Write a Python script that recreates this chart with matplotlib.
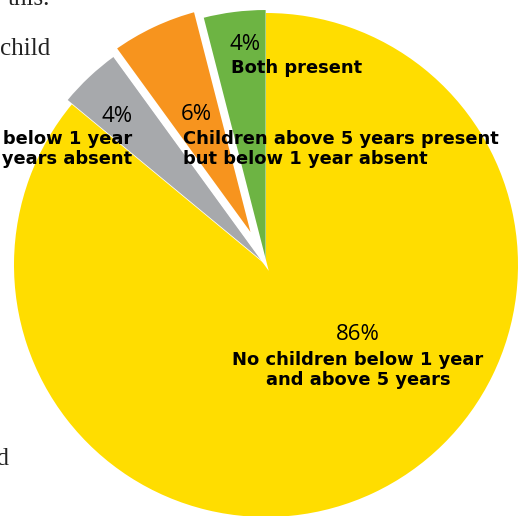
import matplotlib.pyplot as plt

# slices, counter-clockwise from 12 o'clock
categories = ["Both present",
              "Children above 5 years present\nbut below 1 year absent",
              "Children below 1 year\npresent but above 5 years absent",
              "No children below 1 year\nand above 5 years"]
shares = [4, 6, 4, 86]
colors = ["#6DB443", "#F7941E", "#A7A9AC", "#FFDD00"]

H = 516  # picture height in px, text placed in px from top

fig = plt.figure(figsize=(5.18, 5.16), dpi=100)
ax = fig.add_axes([0, 0, 1, 1])

wedges, _ = ax.pie(shares, colors=colors, startangle=90, counterclock=True,
                   center=(266, H - 265), radius=252,
                   explode=[3, 15, 6, 0], wedgeprops=dict(linewidth=0))
# orange slice carries a thick white outline that cuts the gaps
wedges[1].set_edgecolor("white")
wedges[1].set_linewidth(5.8)
wedges[1].set_zorder(5)
wedges[0].set_zorder(3)
wedges[2].set_zorder(3)
wedges[3].set_zorder(1)

ax.set_xlim(0, 518)
ax.set_ylim(0, H)
ax.set_aspect("equal")
ax.axis("off")

bold = dict(fontfamily="DejaVu Sans", fontweight="bold", fontsize=12.9,
            color="black", zorder=10, linespacing=1.15)
reg = dict(fontfamily="Open Sans", fontsize=16, color="black", zorder=10)

# green
ax.text(229, H - 45, f"{shares[0]}%", ha="left", va="center", **reg)
ax.text(231, H - 68, categories[0], ha="left", va="center", **bold)
# orange
ax.text(181, H - 114, f"{shares[1]}%", ha="left", va="center", **reg)
ax.text(183, H - 149, categories[1], ha="left", va="center", **bold)
# grey (runs off the left edge)
ax.text(133, H - 116, f"{shares[2]}%", ha="right", va="center", **reg)
ax.text(132, H - 149, categories[2], ha="right", va="center",
        multialignment="right", **bold)
# yellow
ax.text(358, H - 334, f"{shares[3]}%", ha="center", va="center", **reg)
ax.text(358, H - 370, categories[3], ha="center", va="center",
        multialignment="center", **bold)

# fragments of the surrounding page text
serif = dict(fontfamily="Liberation Serif", fontsize=18, color="#222222")
ax.text(50, H - 5, "this.", ha="right", va="baseline", **serif)
ax.text(0, H - 55, "child", ha="left", va="baseline", **serif)
ax.text(9, H - 465, "and", ha="right", va="baseline", **serif)

fig.savefig("out.png", dpi=100)
